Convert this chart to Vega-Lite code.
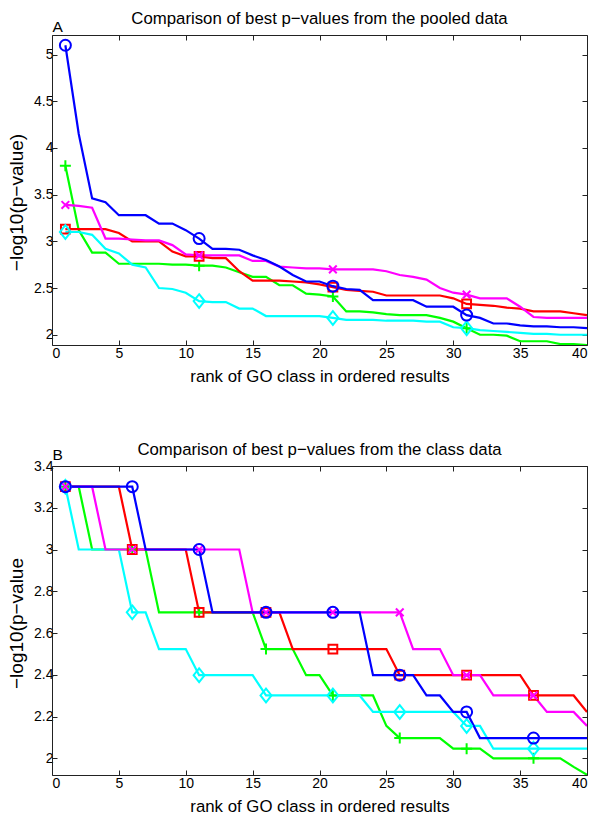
{
  "$schema": "https://vega.github.io/schema/vega-lite/v6.json",
  "padding": {"left": 7, "top": 10, "right": 5, "bottom": 0},
  "background": "white",
  "config": {
    "font": "Liberation Sans",
    "view": {"stroke": null},
    "axis": {
      "labelFont": "Liberation Sans", "labelFontSize": 14, "labelColor": "#000",
      "titleFont": "Liberation Sans", "titleFontSize": 16.8, "titleFontWeight": "normal", "titleColor": "#000",
      "tickColor": "#222", "domainColor": "#222", "tickSize": -5, "grid": false, "labelPadding": 4
    },
    "axisBottom": {"labelPadding": 6, "titlePadding": 8},
    "axisLeft": {"titleFontSize": 19, "titleAngle": -90, "titleBaseline": "alphabetic", "titleAlign": "center", "titleX": -30},
    "title": {"font": "Liberation Sans", "fontSize": 16.8, "fontWeight": "normal", "color": "#000", "anchor": "middle", "frame": "group", "baseline": "alphabetic"}
  },
  "spacing": 121,
  "bounds": "flush",
  "datasets": {
    "pooled": [
      {"series":"plus","rank":1,"logp":3.81},{"series":"plus","rank":2,"logp":3.12},{"series":"plus","rank":3,"logp":2.88},{"series":"plus","rank":4,"logp":2.88},{"series":"plus","rank":5,"logp":2.76},{"series":"plus","rank":6,"logp":2.76},{"series":"plus","rank":7,"logp":2.76},{"series":"plus","rank":8,"logp":2.76},{"series":"plus","rank":9,"logp":2.75},{"series":"plus","rank":10,"logp":2.75},
      {"series":"plus","rank":11,"logp":2.74},{"series":"plus","rank":12,"logp":2.74},{"series":"plus","rank":13,"logp":2.72},{"series":"plus","rank":14,"logp":2.67},{"series":"plus","rank":15,"logp":2.62},{"series":"plus","rank":16,"logp":2.62},{"series":"plus","rank":17,"logp":2.53},{"series":"plus","rank":18,"logp":2.53},{"series":"plus","rank":19,"logp":2.44},{"series":"plus","rank":20,"logp":2.43},
      {"series":"plus","rank":21,"logp":2.41},{"series":"plus","rank":22,"logp":2.25},{"series":"plus","rank":23,"logp":2.25},{"series":"plus","rank":24,"logp":2.24},{"series":"plus","rank":25,"logp":2.22},{"series":"plus","rank":26,"logp":2.21},{"series":"plus","rank":27,"logp":2.21},{"series":"plus","rank":28,"logp":2.21},{"series":"plus","rank":29,"logp":2.18},{"series":"plus","rank":30,"logp":2.14},
      {"series":"plus","rank":31,"logp":2.07},{"series":"plus","rank":32,"logp":2.00},{"series":"plus","rank":33,"logp":2.00},{"series":"plus","rank":34,"logp":1.99},{"series":"plus","rank":35,"logp":1.93},{"series":"plus","rank":36,"logp":1.93},{"series":"plus","rank":37,"logp":1.93},{"series":"plus","rank":38,"logp":1.90},{"series":"plus","rank":39,"logp":1.90},{"series":"plus","rank":40,"logp":1.89},

      {"series":"square","rank":1,"logp":3.13},{"series":"square","rank":2,"logp":3.13},{"series":"square","rank":3,"logp":3.13},{"series":"square","rank":4,"logp":3.13},{"series":"square","rank":5,"logp":3.09},{"series":"square","rank":6,"logp":3.00},{"series":"square","rank":7,"logp":3.00},{"series":"square","rank":8,"logp":3.00},{"series":"square","rank":9,"logp":2.89},{"series":"square","rank":10,"logp":2.84},
      {"series":"square","rank":11,"logp":2.84},{"series":"square","rank":12,"logp":2.82},{"series":"square","rank":13,"logp":2.82},{"series":"square","rank":14,"logp":2.68},{"series":"square","rank":15,"logp":2.58},{"series":"square","rank":16,"logp":2.58},{"series":"square","rank":17,"logp":2.58},{"series":"square","rank":18,"logp":2.57},{"series":"square","rank":19,"logp":2.56},{"series":"square","rank":20,"logp":2.54},
      {"series":"square","rank":21,"logp":2.51},{"series":"square","rank":22,"logp":2.48},{"series":"square","rank":23,"logp":2.47},{"series":"square","rank":24,"logp":2.46},{"series":"square","rank":25,"logp":2.42},{"series":"square","rank":26,"logp":2.42},{"series":"square","rank":27,"logp":2.42},{"series":"square","rank":28,"logp":2.42},{"series":"square","rank":29,"logp":2.42},{"series":"square","rank":30,"logp":2.39},
      {"series":"square","rank":31,"logp":2.33},{"series":"square","rank":32,"logp":2.32},{"series":"square","rank":33,"logp":2.31},{"series":"square","rank":34,"logp":2.29},{"series":"square","rank":35,"logp":2.28},{"series":"square","rank":36,"logp":2.25},{"series":"square","rank":37,"logp":2.25},{"series":"square","rank":38,"logp":2.25},{"series":"square","rank":39,"logp":2.23},{"series":"square","rank":40,"logp":2.21},

      {"series":"diamond","rank":1,"logp":3.10},{"series":"diamond","rank":2,"logp":3.10},{"series":"diamond","rank":3,"logp":3.07},{"series":"diamond","rank":4,"logp":2.92},{"series":"diamond","rank":5,"logp":2.87},{"series":"diamond","rank":6,"logp":2.75},{"series":"diamond","rank":7,"logp":2.72},{"series":"diamond","rank":8,"logp":2.50},{"series":"diamond","rank":9,"logp":2.49},{"series":"diamond","rank":10,"logp":2.45},
      {"series":"diamond","rank":11,"logp":2.36},{"series":"diamond","rank":12,"logp":2.35},{"series":"diamond","rank":13,"logp":2.35},{"series":"diamond","rank":14,"logp":2.28},{"series":"diamond","rank":15,"logp":2.28},{"series":"diamond","rank":16,"logp":2.20},{"series":"diamond","rank":17,"logp":2.20},{"series":"diamond","rank":18,"logp":2.20},{"series":"diamond","rank":19,"logp":2.20},{"series":"diamond","rank":20,"logp":2.20},
      {"series":"diamond","rank":21,"logp":2.18},{"series":"diamond","rank":22,"logp":2.16},{"series":"diamond","rank":23,"logp":2.16},{"series":"diamond","rank":24,"logp":2.16},{"series":"diamond","rank":25,"logp":2.15},{"series":"diamond","rank":26,"logp":2.15},{"series":"diamond","rank":27,"logp":2.15},{"series":"diamond","rank":28,"logp":2.14},{"series":"diamond","rank":29,"logp":2.14},{"series":"diamond","rank":30,"logp":2.08},
      {"series":"diamond","rank":31,"logp":2.07},{"series":"diamond","rank":32,"logp":2.05},{"series":"diamond","rank":33,"logp":2.04},{"series":"diamond","rank":34,"logp":2.03},{"series":"diamond","rank":35,"logp":2.02},{"series":"diamond","rank":36,"logp":2.01},{"series":"diamond","rank":37,"logp":2.01},{"series":"diamond","rank":38,"logp":2.00},{"series":"diamond","rank":39,"logp":2.00},{"series":"diamond","rank":40,"logp":2.00},

      {"series":"x","rank":1,"logp":3.39},{"series":"x","rank":2,"logp":3.38},{"series":"x","rank":3,"logp":3.36},{"series":"x","rank":4,"logp":3.03},{"series":"x","rank":5,"logp":3.03},{"series":"x","rank":6,"logp":3.02},{"series":"x","rank":7,"logp":3.01},{"series":"x","rank":8,"logp":3.01},{"series":"x","rank":9,"logp":2.96},{"series":"x","rank":10,"logp":2.86},
      {"series":"x","rank":11,"logp":2.85},{"series":"x","rank":12,"logp":2.85},{"series":"x","rank":13,"logp":2.85},{"series":"x","rank":14,"logp":2.85},{"series":"x","rank":15,"logp":2.79},{"series":"x","rank":16,"logp":2.79},{"series":"x","rank":17,"logp":2.73},{"series":"x","rank":18,"logp":2.72},{"series":"x","rank":19,"logp":2.71},{"series":"x","rank":20,"logp":2.71},
      {"series":"x","rank":21,"logp":2.70},{"series":"x","rank":22,"logp":2.70},{"series":"x","rank":23,"logp":2.70},{"series":"x","rank":24,"logp":2.70},{"series":"x","rank":25,"logp":2.68},{"series":"x","rank":26,"logp":2.64},{"series":"x","rank":27,"logp":2.62},{"series":"x","rank":28,"logp":2.59},{"series":"x","rank":29,"logp":2.50},{"series":"x","rank":30,"logp":2.45},
      {"series":"x","rank":31,"logp":2.43},{"series":"x","rank":32,"logp":2.39},{"series":"x","rank":33,"logp":2.39},{"series":"x","rank":34,"logp":2.39},{"series":"x","rank":35,"logp":2.30},{"series":"x","rank":36,"logp":2.19},{"series":"x","rank":37,"logp":2.18},{"series":"x","rank":38,"logp":2.18},{"series":"x","rank":39,"logp":2.18},{"series":"x","rank":40,"logp":2.18},

      {"series":"circle","rank":1,"logp":5.10},{"series":"circle","rank":2,"logp":4.15},{"series":"circle","rank":3,"logp":3.46},{"series":"circle","rank":4,"logp":3.42},{"series":"circle","rank":5,"logp":3.28},{"series":"circle","rank":6,"logp":3.28},{"series":"circle","rank":7,"logp":3.28},{"series":"circle","rank":8,"logp":3.19},{"series":"circle","rank":9,"logp":3.19},{"series":"circle","rank":10,"logp":3.12},
      {"series":"circle","rank":11,"logp":3.03},{"series":"circle","rank":12,"logp":2.92},{"series":"circle","rank":13,"logp":2.92},{"series":"circle","rank":14,"logp":2.91},{"series":"circle","rank":15,"logp":2.85},{"series":"circle","rank":16,"logp":2.80},{"series":"circle","rank":17,"logp":2.73},{"series":"circle","rank":18,"logp":2.64},{"series":"circle","rank":19,"logp":2.57},{"series":"circle","rank":20,"logp":2.57},
      {"series":"circle","rank":21,"logp":2.52},{"series":"circle","rank":22,"logp":2.49},{"series":"circle","rank":23,"logp":2.48},{"series":"circle","rank":24,"logp":2.37},{"series":"circle","rank":25,"logp":2.37},{"series":"circle","rank":26,"logp":2.37},{"series":"circle","rank":27,"logp":2.37},{"series":"circle","rank":28,"logp":2.30},{"series":"circle","rank":29,"logp":2.30},{"series":"circle","rank":30,"logp":2.30},
      {"series":"circle","rank":31,"logp":2.21},{"series":"circle","rank":32,"logp":2.18},{"series":"circle","rank":33,"logp":2.12},{"series":"circle","rank":34,"logp":2.12},{"series":"circle","rank":35,"logp":2.10},{"series":"circle","rank":36,"logp":2.09},{"series":"circle","rank":37,"logp":2.09},{"series":"circle","rank":38,"logp":2.08},{"series":"circle","rank":39,"logp":2.08},{"series":"circle","rank":40,"logp":2.07}
    ],
    "cls": [
      {"series":"plus","rank":1,"logp":3.301},{"series":"plus","rank":2,"logp":3.301},{"series":"plus","rank":3,"logp":3.0},{"series":"plus","rank":4,"logp":3.0},{"series":"plus","rank":5,"logp":3.0},{"series":"plus","rank":6,"logp":3.0},{"series":"plus","rank":7,"logp":3.0},{"series":"plus","rank":8,"logp":2.699},{"series":"plus","rank":9,"logp":2.699},{"series":"plus","rank":10,"logp":2.699},
      {"series":"plus","rank":11,"logp":2.699},{"series":"plus","rank":12,"logp":2.699},{"series":"plus","rank":13,"logp":2.699},{"series":"plus","rank":14,"logp":2.699},{"series":"plus","rank":15,"logp":2.699},{"series":"plus","rank":16,"logp":2.523},{"series":"plus","rank":17,"logp":2.523},{"series":"plus","rank":18,"logp":2.523},{"series":"plus","rank":19,"logp":2.398},{"series":"plus","rank":20,"logp":2.398},
      {"series":"plus","rank":21,"logp":2.301},{"series":"plus","rank":22,"logp":2.301},{"series":"plus","rank":23,"logp":2.301},{"series":"plus","rank":24,"logp":2.301},{"series":"plus","rank":25,"logp":2.155},{"series":"plus","rank":26,"logp":2.097},{"series":"plus","rank":27,"logp":2.097},{"series":"plus","rank":28,"logp":2.097},{"series":"plus","rank":29,"logp":2.097},{"series":"plus","rank":30,"logp":2.046},
      {"series":"plus","rank":31,"logp":2.046},{"series":"plus","rank":32,"logp":2.046},{"series":"plus","rank":33,"logp":2.0},{"series":"plus","rank":34,"logp":2.0},{"series":"plus","rank":35,"logp":2.0},{"series":"plus","rank":36,"logp":2.0},{"series":"plus","rank":37,"logp":2.0},{"series":"plus","rank":38,"logp":2.0},{"series":"plus","rank":39,"logp":1.959},{"series":"plus","rank":40,"logp":1.921},

      {"series":"square","rank":1,"logp":3.301},{"series":"square","rank":2,"logp":3.301},{"series":"square","rank":3,"logp":3.301},{"series":"square","rank":4,"logp":3.301},{"series":"square","rank":5,"logp":3.301},{"series":"square","rank":6,"logp":3.0},{"series":"square","rank":7,"logp":3.0},{"series":"square","rank":8,"logp":3.0},{"series":"square","rank":9,"logp":3.0},{"series":"square","rank":10,"logp":3.0},
      {"series":"square","rank":11,"logp":2.699},{"series":"square","rank":12,"logp":2.699},{"series":"square","rank":13,"logp":2.699},{"series":"square","rank":14,"logp":2.699},{"series":"square","rank":15,"logp":2.699},{"series":"square","rank":16,"logp":2.699},{"series":"square","rank":17,"logp":2.699},{"series":"square","rank":18,"logp":2.523},{"series":"square","rank":19,"logp":2.523},{"series":"square","rank":20,"logp":2.523},
      {"series":"square","rank":21,"logp":2.523},{"series":"square","rank":22,"logp":2.523},{"series":"square","rank":23,"logp":2.523},{"series":"square","rank":24,"logp":2.523},{"series":"square","rank":25,"logp":2.523},{"series":"square","rank":26,"logp":2.398},{"series":"square","rank":27,"logp":2.398},{"series":"square","rank":28,"logp":2.398},{"series":"square","rank":29,"logp":2.398},{"series":"square","rank":30,"logp":2.398},
      {"series":"square","rank":31,"logp":2.398},{"series":"square","rank":32,"logp":2.398},{"series":"square","rank":33,"logp":2.398},{"series":"square","rank":34,"logp":2.398},{"series":"square","rank":35,"logp":2.398},{"series":"square","rank":36,"logp":2.301},{"series":"square","rank":37,"logp":2.301},{"series":"square","rank":38,"logp":2.301},{"series":"square","rank":39,"logp":2.301},{"series":"square","rank":40,"logp":2.222},

      {"series":"diamond","rank":1,"logp":3.301},{"series":"diamond","rank":2,"logp":3.0},{"series":"diamond","rank":3,"logp":3.0},{"series":"diamond","rank":4,"logp":3.0},{"series":"diamond","rank":5,"logp":3.0},{"series":"diamond","rank":6,"logp":2.699},{"series":"diamond","rank":7,"logp":2.699},{"series":"diamond","rank":8,"logp":2.523},{"series":"diamond","rank":9,"logp":2.523},{"series":"diamond","rank":10,"logp":2.523},
      {"series":"diamond","rank":11,"logp":2.398},{"series":"diamond","rank":12,"logp":2.398},{"series":"diamond","rank":13,"logp":2.398},{"series":"diamond","rank":14,"logp":2.398},{"series":"diamond","rank":15,"logp":2.398},{"series":"diamond","rank":16,"logp":2.301},{"series":"diamond","rank":17,"logp":2.301},{"series":"diamond","rank":18,"logp":2.301},{"series":"diamond","rank":19,"logp":2.301},{"series":"diamond","rank":20,"logp":2.301},
      {"series":"diamond","rank":21,"logp":2.301},{"series":"diamond","rank":22,"logp":2.301},{"series":"diamond","rank":23,"logp":2.301},{"series":"diamond","rank":24,"logp":2.222},{"series":"diamond","rank":25,"logp":2.222},{"series":"diamond","rank":26,"logp":2.222},{"series":"diamond","rank":27,"logp":2.222},{"series":"diamond","rank":28,"logp":2.222},{"series":"diamond","rank":29,"logp":2.222},{"series":"diamond","rank":30,"logp":2.222},
      {"series":"diamond","rank":31,"logp":2.155},{"series":"diamond","rank":32,"logp":2.155},{"series":"diamond","rank":33,"logp":2.046},{"series":"diamond","rank":34,"logp":2.046},{"series":"diamond","rank":35,"logp":2.046},{"series":"diamond","rank":36,"logp":2.046},{"series":"diamond","rank":37,"logp":2.046},{"series":"diamond","rank":38,"logp":2.046},{"series":"diamond","rank":39,"logp":2.046},{"series":"diamond","rank":40,"logp":2.046},

      {"series":"x","rank":1,"logp":3.301},{"series":"x","rank":2,"logp":3.301},{"series":"x","rank":3,"logp":3.301},{"series":"x","rank":4,"logp":3.0},{"series":"x","rank":5,"logp":3.0},{"series":"x","rank":6,"logp":3.0},{"series":"x","rank":7,"logp":3.0},{"series":"x","rank":8,"logp":3.0},{"series":"x","rank":9,"logp":3.0},{"series":"x","rank":10,"logp":3.0},
      {"series":"x","rank":11,"logp":3.0},{"series":"x","rank":12,"logp":3.0},{"series":"x","rank":13,"logp":3.0},{"series":"x","rank":14,"logp":3.0},{"series":"x","rank":15,"logp":2.699},{"series":"x","rank":16,"logp":2.699},{"series":"x","rank":17,"logp":2.699},{"series":"x","rank":18,"logp":2.699},{"series":"x","rank":19,"logp":2.699},{"series":"x","rank":20,"logp":2.699},
      {"series":"x","rank":21,"logp":2.699},{"series":"x","rank":22,"logp":2.699},{"series":"x","rank":23,"logp":2.699},{"series":"x","rank":24,"logp":2.699},{"series":"x","rank":25,"logp":2.699},{"series":"x","rank":26,"logp":2.699},{"series":"x","rank":27,"logp":2.523},{"series":"x","rank":28,"logp":2.523},{"series":"x","rank":29,"logp":2.523},{"series":"x","rank":30,"logp":2.398},
      {"series":"x","rank":31,"logp":2.398},{"series":"x","rank":32,"logp":2.398},{"series":"x","rank":33,"logp":2.301},{"series":"x","rank":34,"logp":2.301},{"series":"x","rank":35,"logp":2.301},{"series":"x","rank":36,"logp":2.301},{"series":"x","rank":37,"logp":2.222},{"series":"x","rank":38,"logp":2.222},{"series":"x","rank":39,"logp":2.222},{"series":"x","rank":40,"logp":2.155},

      {"series":"circle","rank":1,"logp":3.301},{"series":"circle","rank":2,"logp":3.301},{"series":"circle","rank":3,"logp":3.301},{"series":"circle","rank":4,"logp":3.301},{"series":"circle","rank":5,"logp":3.301},{"series":"circle","rank":6,"logp":3.301},{"series":"circle","rank":7,"logp":3.0},{"series":"circle","rank":8,"logp":3.0},{"series":"circle","rank":9,"logp":3.0},{"series":"circle","rank":10,"logp":3.0},
      {"series":"circle","rank":11,"logp":3.0},{"series":"circle","rank":12,"logp":2.699},{"series":"circle","rank":13,"logp":2.699},{"series":"circle","rank":14,"logp":2.699},{"series":"circle","rank":15,"logp":2.699},{"series":"circle","rank":16,"logp":2.699},{"series":"circle","rank":17,"logp":2.699},{"series":"circle","rank":18,"logp":2.699},{"series":"circle","rank":19,"logp":2.699},{"series":"circle","rank":20,"logp":2.699},
      {"series":"circle","rank":21,"logp":2.699},{"series":"circle","rank":22,"logp":2.699},{"series":"circle","rank":23,"logp":2.699},{"series":"circle","rank":24,"logp":2.398},{"series":"circle","rank":25,"logp":2.398},{"series":"circle","rank":26,"logp":2.398},{"series":"circle","rank":27,"logp":2.398},{"series":"circle","rank":28,"logp":2.301},{"series":"circle","rank":29,"logp":2.301},{"series":"circle","rank":30,"logp":2.222},
      {"series":"circle","rank":31,"logp":2.222},{"series":"circle","rank":32,"logp":2.097},{"series":"circle","rank":33,"logp":2.097},{"series":"circle","rank":34,"logp":2.097},{"series":"circle","rank":35,"logp":2.097},{"series":"circle","rank":36,"logp":2.097},{"series":"circle","rank":37,"logp":2.097},{"series":"circle","rank":38,"logp":2.097},{"series":"circle","rank":39,"logp":2.097},{"series":"circle","rank":40,"logp":2.097}
    ]
  },
  "vconcat": [
    {
      "width": 535, "height": 310,
      "title": {"text": "Comparison of best p−values from the pooled data", "offset": -8.4},
      "data": {"name": "pooled"},
      "layer": [
        {
          "mark": {"type": "line", "strokeWidth": 2.2, "clip": true},
          "encoding": {
            "x": {"field": "rank", "type": "quantitative", "scale": {"domain": [0, 40], "nice": false},
                  "axis": {"orient": "bottom", "values": [0,5,10,15,20,25,30,35,40], "title": "rank of GO class in ordered results"}},
            "y": {"field": "logp", "type": "quantitative", "scale": {"domain": [1.89, 5.21], "nice": false, "zero": false},
                  "axis": {"orient": "left", "values": [2,2.5,3,3.5,4,4.5,5], "format": ".1~f", "title": "−log10(p−value)", "titleY": 167}},
            "color": {"field": "series", "type": "nominal", "legend": null,
                      "scale": {"domain": ["square","circle","plus","x","diamond"], "range": ["#ff0000","#0000ff","#00ff00","#ff00ff","#00ffff"]}}
          }
        },
        {
          "transform": [{"filter": "(datum.rank - 1) % 10 == 0"}],
          "mark": {"type": "point", "filled": false, "strokeWidth": 2, "size": 121, "opacity": 1},
          "encoding": {
            "x": {"field": "rank", "type": "quantitative",
                  "axis": {"orient": "top", "values": [0,5,10,15,20,25,30,35,40], "labels": false, "title": "A", "titleAngle": 0, "titleAnchor": "start", "titleAlign": "left", "titleBaseline": "alphabetic", "titleX": 0, "titleY": -4, "titleFontSize": 15.5}},
            "y": {"field": "logp", "type": "quantitative",
                  "axis": {"orient": "right", "values": [2,2.5,3,3.5,4,4.5,5], "labels": false, "title": null}},
            "color": {"field": "series", "type": "nominal", "legend": null},
            "shape": {"field": "series", "type": "nominal", "legend": null,
                      "scale": {"domain": ["square","circle","plus","x","diamond"], "range": ["M-0.8,-0.8H0.8V0.8H-0.8Z","circle","M-1,0H1M0,-1V1","M-0.7,-0.7L0.7,0.7M-0.7,0.7L0.7,-0.7","M0,-1.25L1,0L0,1.25L-1,0Z"]}}
          }
        }
      ],
      "resolve": {"axis": {"x": "independent", "y": "independent"}}
    },
    {
      "width": 535, "height": 309,
      "title": {"text": "Comparison of best p−values from the class data", "offset": -11.4},
      "data": {"name": "cls"},
      "layer": [
        {
          "mark": {"type": "line", "strokeWidth": 2.2, "clip": true},
          "encoding": {
            "x": {"field": "rank", "type": "quantitative", "scale": {"domain": [0, 40], "nice": false},
                  "axis": {"orient": "bottom", "values": [0,5,10,15,20,25,30,35,40], "title": "rank of GO class in ordered results"}},
            "y": {"field": "logp", "type": "quantitative", "scale": {"domain": [1.92, 3.4], "nice": false, "zero": false},
                  "axis": {"orient": "left", "values": [2,2.2,2.4,2.6,2.8,3,3.2,3.4], "format": ".1~f", "title": "−log10(p−value", "titleY": 157}},
            "color": {"field": "series", "type": "nominal", "legend": null,
                      "scale": {"domain": ["square","circle","plus","x","diamond"], "range": ["#ff0000","#0000ff","#00ff00","#ff00ff","#00ffff"]}}
          }
        },
        {
          "transform": [{"filter": "(datum.rank - 1) % 5 == 0"}],
          "mark": {"type": "point", "filled": false, "strokeWidth": 2, "size": 121, "opacity": 1},
          "encoding": {
            "x": {"field": "rank", "type": "quantitative",
                  "axis": {"orient": "top", "values": [0,5,10,15,20,25,30,35,40], "labels": false, "title": "B", "titleAngle": 0, "titleAnchor": "start", "titleAlign": "left", "titleBaseline": "alphabetic", "titleX": 0, "titleY": -7, "titleFontSize": 15.5}},
            "y": {"field": "logp", "type": "quantitative",
                  "axis": {"orient": "right", "values": [2,2.2,2.4,2.6,2.8,3,3.2,3.4], "labels": false, "title": null}},
            "color": {"field": "series", "type": "nominal", "legend": null},
            "shape": {"field": "series", "type": "nominal", "legend": null,
                      "scale": {"domain": ["square","circle","plus","x","diamond"], "range": ["M-0.8,-0.8H0.8V0.8H-0.8Z","circle","M-1,0H1M0,-1V1","M-0.7,-0.7L0.7,0.7M-0.7,0.7L0.7,-0.7","M0,-1.25L1,0L0,1.25L-1,0Z"]}}
          }
        }
      ],
      "resolve": {"axis": {"x": "independent", "y": "independent"}}
    }
  ]
}
